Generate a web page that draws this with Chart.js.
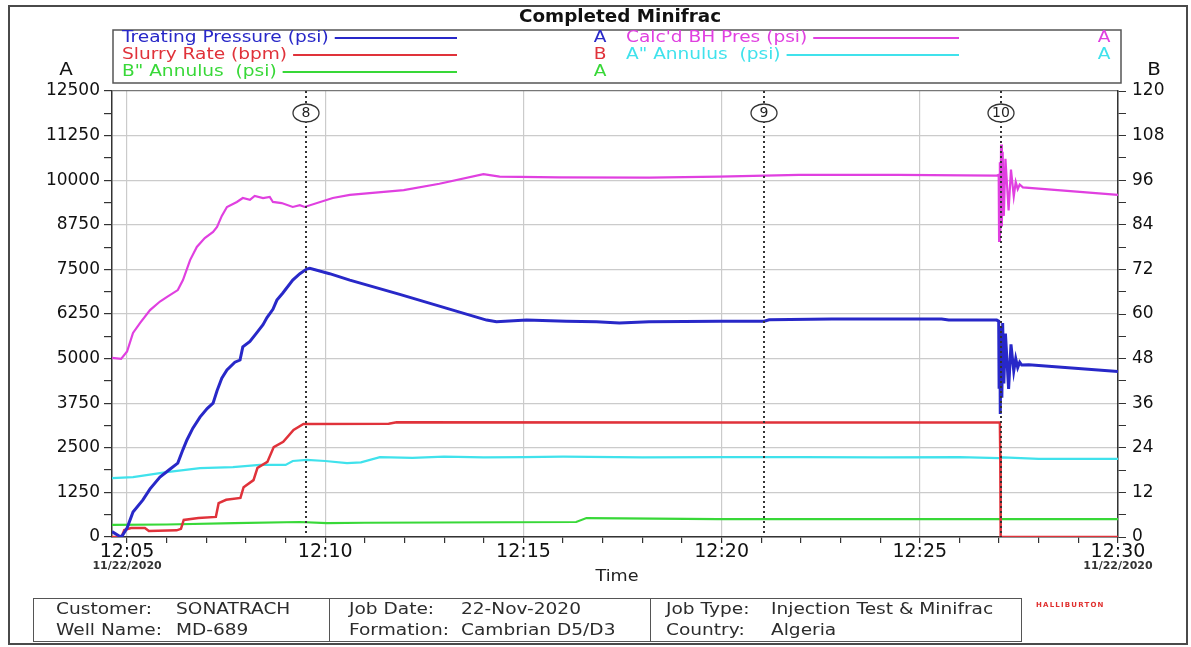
<!DOCTYPE html>
<html>
<head>
<meta charset="utf-8">
<title>Completed Minifrac</title>
<script src="https://cdn.jsdelivr.net/npm/chart.js@4.4.0/dist/chart.umd.min.js"></script>
<style>
    html, body { margin: 0; padding: 0; background: #fff; }
    #wrap { position: relative; width: 1191px; height: 647px; overflow: hidden; font-family: "DejaVu Sans", sans-serif; }
    #frame { position: absolute; left: 8px; top: 5px; width: 1176px; height: 636px; border: 2px solid #4a4a4a; }
    #chart-box { position: absolute; left: 0; top: 0; width: 1191px; height: 647px; }
    #info { position: absolute; left: 33px; top: 598px; width: 987px; height: 42px; border: 1.5px solid #555; }
    #info .sep { position: absolute; top: 0; bottom: 0; border-left: 1.5px solid #555; }
    #info span { position: absolute; font-size: 16px; line-height: 20px; color: #2c2c2c; white-space: nowrap; transform: scaleX(1.16); transform-origin: left center; }
    #brand { position: absolute; left: 1036px; top: 601px; font: bold 7px "DejaVu Sans", sans-serif; letter-spacing: 1.2px; color: #e0302f; }
</style>
</head>
<body>
<div id="wrap">
    <div id="frame"></div>
    <div id="chart-box"><canvas id="chart"></canvas></div>
    <div id="info">
        <div class="sep" style="left: 295px;"></div>
        <div class="sep" style="left: 616px;"></div>
    </div>
    <div id="brand">HALLIBURTON</div>
</div>
<script>
// time axis is in minutes after 12:00
const xTickMinutes = [5, 10, 15, 20, 25, 30];
const xTickLabels = ["12:05", "12:10", "12:15", "12:20", "12:25", "12:30"];
const jobDate = "11/22/2020";

const eventLabels = ["8", "9", "10"];
const eventMinutes = [9.51, 21.07, 27.04];

// [minute, psi]
const treatingPressure = [
    [4.62, 150], [4.80, 30], [4.87, 20], [5.0, 250], [5.15, 700], [5.40, 1040], [5.58, 1350],
    [5.83, 1680], [6.08, 1900], [6.28, 2070], [6.41, 2450], [6.51, 2720], [6.66, 3050], [6.84, 3360],
    [7.02, 3600], [7.17, 3750], [7.27, 4100], [7.39, 4450], [7.52, 4680], [7.72, 4900], [7.85, 4960],
    [7.92, 5330], [8.10, 5480], [8.27, 5720], [8.43, 5950], [8.53, 6150], [8.68, 6380], [8.78, 6640],
    [8.93, 6840], [9.18, 7200], [9.36, 7380], [9.53, 7510], [9.61, 7530], [10.11, 7380], [10.62, 7200],
    [11.88, 6800], [14.07, 6080], [14.32, 6030], [15.08, 6080], [16.08, 6050], [16.84, 6030], [17.42, 6000],
    [18.17, 6030], [19.94, 6050], [21.07, 6050], [21.2, 6090], [22.78, 6110], [25.55, 6110], [25.73, 6080],
    [26.94, 6080], [26.99, 6050], [27.0, 4200], [27.02, 5800], [27.03, 3450], [27.05, 5900], [27.07, 3900],
    [27.09, 6000], [27.12, 4300], [27.16, 5700], [27.24, 4150], [27.30, 5400], [27.37, 4650], [27.42, 5000],
    [27.47, 4750], [27.52, 4900], [27.57, 4820], [27.75, 4830], [30, 4640]
];

// [minute, bpm]
const slurryRate = [
    [4.62, 0], [4.86, 0], [4.93, 1.9], [5.1, 2.4], [5.45, 2.4], [5.55, 1.6], [6.25, 1.8], [6.36, 2.2],
    [6.43, 4.6], [6.8, 5.1], [7.24, 5.4], [7.31, 9.1], [7.5, 10], [7.86, 10.5], [7.94, 13.4], [8.19, 15.3],
    [8.29, 18.6], [8.54, 20.2], [8.7, 24.2], [8.94, 25.6], [9.2, 28.8], [9.45, 30.4], [11.6, 30.5],
    [11.8, 30.9], [20.0, 30.8], [27.02, 30.8], [27.03, 22], [27.04, 0], [30, 0]
];

// [minute, psi]
const annulusB = [
    [4.62, 340], [6.0, 350], [7.7, 390], [9.36, 420], [10.04, 390], [11.0, 400], [16.33, 420],
    [16.59, 530], [17.5, 520], [19.9, 500], [21.0, 500], [25.0, 500], [30, 500]
];

// [minute, psi]
const bhPressure = [
    [4.62, 5020], [4.85, 4990], [5.0, 5200], [5.15, 5720], [5.33, 6000], [5.58, 6360], [5.83, 6600],
    [6.01, 6730], [6.28, 6920], [6.41, 7200], [6.59, 7760], [6.76, 8130], [6.96, 8380], [7.17, 8550],
    [7.27, 8690], [7.39, 9000], [7.52, 9250], [7.77, 9390], [7.92, 9500], [8.10, 9450], [8.22, 9560],
    [8.43, 9500], [8.60, 9530], [8.68, 9390], [8.90, 9360], [9.18, 9250], [9.36, 9300], [9.48, 9250],
    [10.19, 9500], [10.62, 9590], [11.98, 9720], [12.88, 9900], [13.99, 10170], [14.4, 10100],
    [15.9, 10080], [18.17, 10070], [19.94, 10100], [21.95, 10150], [24.47, 10150], [26.94, 10130],
    [26.99, 10150], [27.0, 8300], [27.02, 10500], [27.03, 8500], [27.05, 11000], [27.07, 8700],
    [27.09, 10800], [27.12, 9000], [27.16, 10600], [27.24, 9150], [27.30, 10300], [27.37, 9550],
    [27.42, 9950], [27.47, 9750], [27.52, 9880], [27.60, 9800], [30, 9590]
];

// [minute, psi]
const annulusA = [
    [4.62, 1650], [5.15, 1680], [6.0, 1820], [6.84, 1930], [7.67, 1960], [8.35, 2020], [9.0, 2020],
    [9.18, 2130], [9.53, 2160], [10.0, 2130], [10.55, 2070], [10.9, 2090], [11.38, 2240], [12.2, 2220],
    [13.0, 2250], [14.0, 2230], [15.0, 2240], [16.0, 2250], [18.0, 2230], [20.0, 2240], [22.0, 2240],
    [24.0, 2230], [26.0, 2240], [27.0, 2210], [27.1, 2230], [28.0, 2190], [30, 2190]
];

const infoCells = [
    ["Customer:", "SONATRACH", 22, 142, 0],
    ["Well Name:", "MD-689", 22, 142, 1],
    ["Job Date:", "22-Nov-2020", 315, 427, 0],
    ["Formation:", "Cambrian D5/D3", 315, 427, 1],
    ["Job Type:", "Injection Test & Minifrac", 632, 737, 0],
    ["Country:", "Algeria", 632, 737, 1]
];

document.addEventListener("DOMContentLoaded", () => {

    const info = document.getElementById("info");
    infoCells.forEach(([label, value, lx, vx, row]) => {
        const top = row === 0 ? 0 : 21;
        const a = document.createElement("span");
        a.textContent = label;
        a.style.left = lx + "px";
        a.style.top = top + "px";
        const b = document.createElement("span");
        b.textContent = value;
        b.style.left = vx + "px";
        b.style.top = top + "px";
        info.appendChild(a);
        info.appendChild(b);
    });

    const FONT = "\"DejaVu Sans\", sans-serif";

    function stretchText(ctx, text, x, y, sx, align) {
        ctx.save();
        ctx.translate(x, y);
        ctx.scale(sx, 1);
        ctx.textAlign = align || "left";
        ctx.fillText(text, 0, 0);
        ctx.restore();
    }

    const decor = {
        id: "decor",
        afterDatasetsDraw(chart) {
            const { ctx, chartArea: area } = chart;
            const x = chart.scales.x;
            ctx.save();
            eventMinutes.forEach((m, i) => {
                const px = Math.round(x.getPixelForValue(m));
                ctx.strokeStyle = "#333";
                ctx.lineWidth = 2;
                ctx.setLineDash([2, 3]);
                ctx.beginPath();
                ctx.moveTo(px, area.top);
                ctx.lineTo(px, area.bottom);
                ctx.stroke();
                ctx.setLineDash([]);
                ctx.fillStyle = "#fff";
                ctx.lineWidth = 1.3;
                ctx.beginPath();
                ctx.ellipse(px, area.top + 22, 13, 9, 0, 0, Math.PI * 2);
                ctx.fill();
                ctx.stroke();
                ctx.fillStyle = "#222";
                ctx.font = "14px " + FONT;
                ctx.textAlign = "center";
                ctx.textBaseline = "middle";
                ctx.fillText(eventLabels[i], px, area.top + 22.5);
            });
            ctx.restore();
        },
        afterDraw(chart) {
            const { ctx, chartArea: area } = chart;
            const x = chart.scales.x;
            ctx.save();
            ctx.textBaseline = "middle";

            // title
            ctx.fillStyle = "#111";
            ctx.font = "bold 17px " + FONT;
            stretchText(ctx, "Completed Minifrac", 620, 18, 1.08, "center");

            // legend box
            ctx.strokeStyle = "#555";
            ctx.lineWidth = 1.5;
            ctx.strokeRect(113, 30, 1008, 53);

            const cols = [
                { textX: 122, lineEnd: 457, letterX: 600 },
                { textX: 626, lineEnd: 959, letterX: 1104 }
            ];
            ctx.font = "16px " + FONT;
            chart.data.datasets.forEach((ds, i) => {
                const col = cols[i < 3 ? 0 : 1];
                const y = 38 + (i < 3 ? i : i - 3) * 17;
                const sx = 1.16;
                ctx.fillStyle = ds.borderColor;
                stretchText(ctx, ds.label, col.textX, y, sx);
                const w = ctx.measureText(ds.label).width * sx;
                ctx.strokeStyle = ds.borderColor;
                ctx.lineWidth = 2;
                ctx.beginPath();
                ctx.moveTo(col.textX + w + 6, y);
                ctx.lineTo(col.lineEnd, y);
                ctx.stroke();
                stretchText(ctx, ds.yAxisID === "yB" ? "B" : "A", col.letterX, y, 1.16, "center");
            });

            // axis letters
            ctx.fillStyle = "#111";
            ctx.font = "18px " + FONT;
            stretchText(ctx, "A", 66, 70, 1.1, "center");
            stretchText(ctx, "B", 1154, 70, 1.1, "center");

            // dates under first and last time tick
            ctx.fillStyle = "#333";
            ctx.font = "bold 11px " + FONT;
            ctx.textAlign = "center";
            ctx.fillText(jobDate, x.getPixelForValue(xTickMinutes[0]), 566);
            ctx.fillText(jobDate, x.getPixelForValue(xTickMinutes[xTickMinutes.length - 1]), 566);

            // axis title
            ctx.fillStyle = "#222";
            ctx.font = "16px " + FONT;
            stretchText(ctx, "Time", (area.left + area.right) / 2 + 2, 577, 1.1, "center");
            ctx.restore();
        }
    };

    function minuteTicks(scale) {
        scale.ticks = [];
        for (let m = 5; m <= 30; m++) scale.ticks.push({ value: m });
    }

    function stepTicks(step, max) {
        return (scale) => {
            scale.ticks = [];
            for (let v = 0; v <= max; v += step) scale.ticks.push({ value: v });
        };
    }

    const line = (label, data, color, axis, width) => ({
        label,
        data,
        yAxisID: axis,
        borderColor: color,
        backgroundColor: color,
        borderWidth: width,
        pointRadius: 0,
        tension: 0,
        fill: false
    });

    new Chart(document.getElementById("chart"), {
        type: "line",
        data: {
            datasets: [
                line("Treating Pressure (psi)", treatingPressure, "#2828c8", "yA", 3),
                line("Slurry Rate (bpm)", slurryRate, "#e0323a", "yB", 2.5),
                line("B\" Annulus  (psi)", annulusB, "#38d838", "yA", 2.2),
                line("Calc'd BH Pres (psi)", bhPressure, "#e040e0", "yA", 2.2),
                line("A\" Annulus  (psi)", annulusA, "#40e2ec", "yA", 2.2)
            ]
        },
        options: {
            responsive: true,
            maintainAspectRatio: false,
            animation: false,
            layout: { padding: { top: 91, bottom: 62, left: 0, right: 0 } },
            plugins: { legend: { display: false }, tooltip: { enabled: false } },
            scales: {
                x: {
                    type: "linear",
                    min: 4.62,
                    max: 30,
                    afterBuildTicks: minuteTicks,
                    afterFit: (s) => { s.height = 48; },
                    border: { color: "#333", width: 1.5 },
                    grid: {
                        color: (c) => xTickMinutes.includes(c.tick.value) ? "#cbcbcb" : "rgba(0,0,0,0)",
                        lineWidth: 1.2,
                        tickColor: "#333",
                        tickLength: 6
                    },
                    ticks: {
                        autoSkip: false,
                        maxRotation: 0,
                        padding: 0,
                        color: "#111",
                        font: { family: "DejaVu Sans", size: 19, lineHeight: 1 },
                        callback: (v) => {
                            const i = xTickMinutes.indexOf(v);
                            return i >= 0 ? xTickLabels[i] : "";
                        }
                    }
                },
                yA: {
                    position: "left",
                    min: 0,
                    max: 12500,
                    afterBuildTicks: stepTicks(625, 12500),
                    afterFit: (s) => { s.width = 112; },
                    border: { color: "#333", width: 1.5 },
                    grid: {
                        color: (c) => c.tick.value === 12500 ? "#777" : (c.tick.value % 1250 === 0 ? "#cbcbcb" : "rgba(0,0,0,0)"),
                        lineWidth: 1.2,
                        tickColor: "#333",
                        tickLength: 8
                    },
                    ticks: {
                        autoSkip: false,
                        padding: 4,
                        color: "#111",
                        font: { family: "DejaVu Sans", size: 17 },
                        callback: (v) => v % 1250 === 0 ? String(v) : ""
                    }
                },
                yB: {
                    position: "right",
                    min: 0,
                    max: 120,
                    afterBuildTicks: stepTicks(6, 120),
                    afterFit: (s) => { s.width = 73; },
                    border: { color: "#333", width: 1.5 },
                    grid: { drawOnChartArea: false, tickColor: "#333", tickLength: 8 },
                    ticks: {
                        autoSkip: false,
                        padding: 6,
                        color: "#111",
                        font: { family: "DejaVu Sans", size: 17 },
                        callback: (v) => v % 12 === 0 ? String(v) : ""
                    }
                }
            }
        },
        plugins: [decor]
    });
});
</script>
</body>
</html>
